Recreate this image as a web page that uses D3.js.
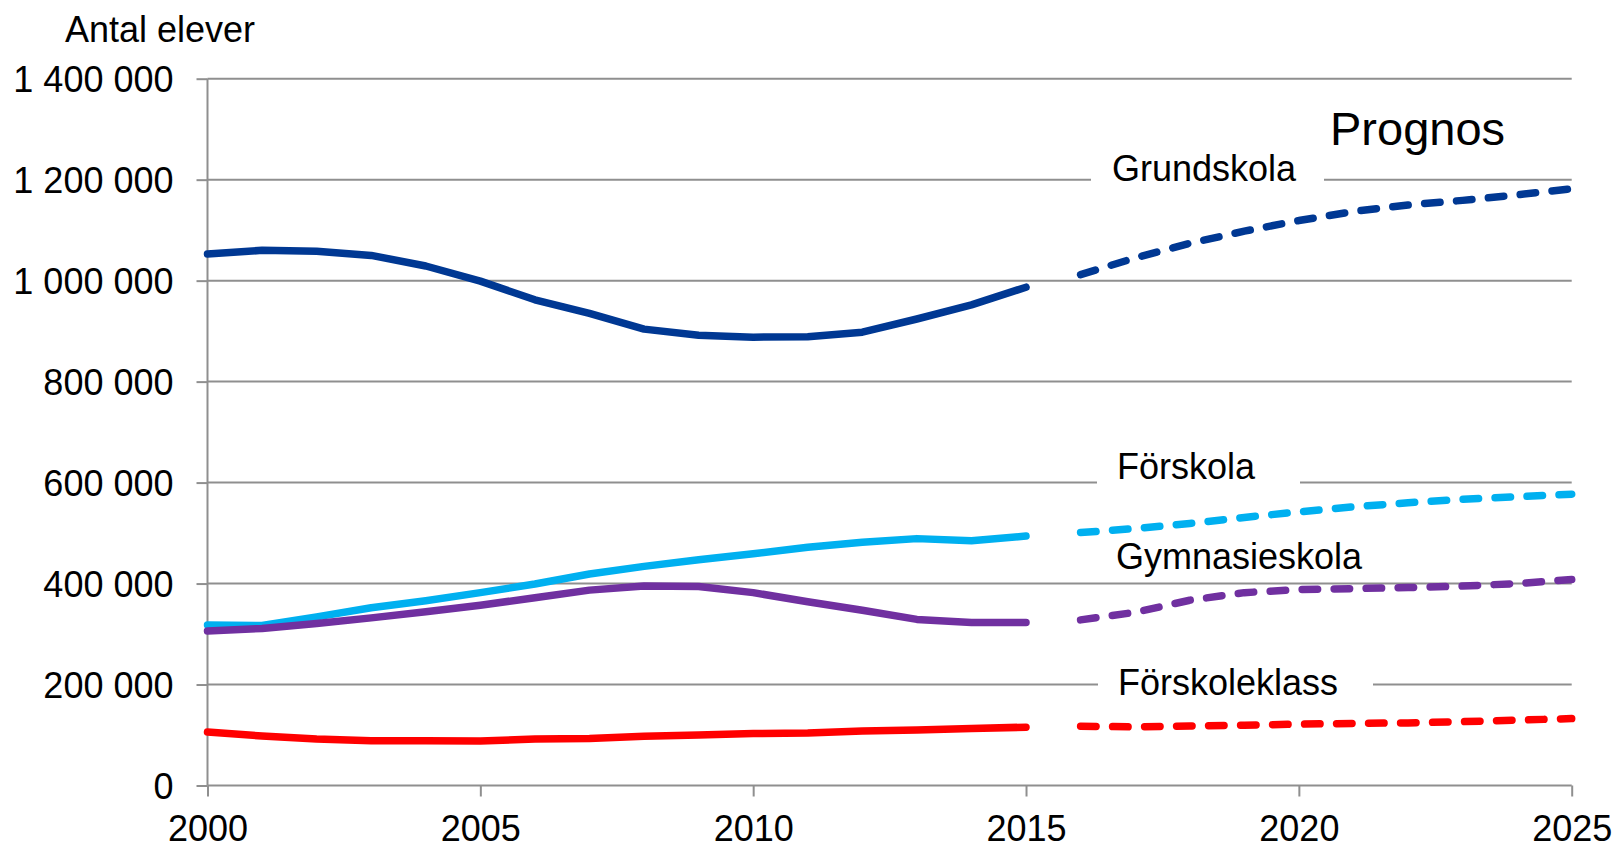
<!DOCTYPE html>
<html>
<head>
<meta charset="utf-8">
<script src="https://cdn.jsdelivr.net/npm/d3@7"></script>
<style>
  html, body { margin: 0; padding: 0; background: #fff; }
  svg { display: block; font-family: "Liberation Sans", Arial, sans-serif; }
</style>
</head>
<body>
<svg id="chart" width="1616" height="846"></svg>
<script>
// ---- data ----
const yearsHist = [2000,2001,2002,2003,2004,2005,2006,2007,2008,2009,2010,2011,2012,2013,2014,2015];
const yearsProg = [2016,2017,2018,2019,2020,2021,2022,2023,2024,2025];

const grundskolaHist = [1053000,1060000,1058000,1050000,1029000,999000,962000,935000,904000,892000,888000,889000,898000,924000,952000,987000];
const grundskolaProg = [1012000,1045000,1074000,1098000,1119000,1137000,1150000,1159000,1170000,1182000];

const forskolaHist = [318000,317000,334000,352000,366000,382000,399000,419000,434000,447000,459000,472000,482000,489000,485000,494000];
const forskolaProg = [501000,509000,519000,531000,542000,552000,560000,567000,572000,577000];

const gymnasieHist = [306000,311000,321000,332000,344000,357000,372000,387000,395000,394000,382000,364000,347000,329000,323000,323000];
const gymnasieProg = [328000,343000,367000,382000,388000,390000,392000,395000,400000,408000];

const forskoleklassHist = [106000,98000,92000,88500,88500,88000,92000,93000,97500,100000,103000,104000,108000,110000,113000,115500];
const forskoleklassProg = [117500,116000,118000,119500,121500,123000,124000,126500,129500,132500];

const yTicks = [0,200000,400000,600000,800000,1000000,1200000,1400000];
const xTicks = [2000,2005,2010,2015,2020,2025];

const seriesNames = ["Grundskola","Förskola","Gymnasieskola","Förskoleklass"];
const seriesColors = ["#003893","#00B0F0","#7030A0","#FF0000"];
const histValues = [grundskolaHist, forskolaHist, gymnasieHist, forskoleklassHist];
const progValues = [grundskolaProg, forskolaProg, gymnasieProg, forskoleklassProg];

const yTitle = "Antal elever";
const prognosText = "Prognos";

// ---- layout ----
const svg = d3.select("#chart");
const x = d3.scaleLinear().domain([2000, 2025]).range([207.5, 1571.7]);
const y = d3.scaleLinear().domain([0, 1400000]).range([785.5, 78.7]);

const loc = d3.formatLocale({decimal: ",", thousands: " ", grouping: [3], currency: ["", ""]});
const fmt = loc.format(",d");

const gridColor = "#8f8f8f";

// gridlines
svg.append("g").selectAll("line").data(yTicks.filter(d => d > 0)).join("line")
  .attr("x1", x(2000)).attr("x2", x(2025))
  .attr("y1", d => y(d)).attr("y2", d => y(d))
  .attr("stroke", gridColor).attr("stroke-width", 2);

// label boxes (white) that break the gridlines
const labelLayout = [
  {name: "Grundskola", x: 1112, yb: 181, boxL: 1091, boxR: 1324},
  {name: "Förskola", x: 1117, yb: 479, boxL: 1097, boxR: 1300},
  {name: "Gymnasieskola", x: 1116, yb: 569, boxL: 1100, boxR: 1380},
  {name: "Förskoleklass", x: 1118, yb: 695, boxL: 1098, boxR: 1373}
];
const lblG = svg.append("g");
labelLayout.forEach(l => {
  lblG.append("rect")
    .attr("x", l.boxL).attr("width", l.boxR - l.boxL)
    .attr("y", l.yb - 33).attr("height", l.name === "Gymnasieskola" ? 40 : 42)
    .attr("fill", "#fff");
});

// y axis
const yAxis = d3.axisLeft(y).tickValues(yTicks).tickFormat(fmt).tickSize(11).tickPadding(23);
const gy = svg.append("g").attr("transform", `translate(${x(2000)},0)`).call(yAxis);
gy.select(".domain").attr("stroke", gridColor).attr("stroke-width", 2)
  .attr("d", `M0,${y(0)}V${y(1400000)}`);
gy.selectAll(".tick line").attr("stroke", gridColor).attr("stroke-width", 2);
gy.selectAll(".tick text").attr("font-size", 36).attr("fill", "#000")
  .attr("font-family", "'Liberation Sans', Arial, sans-serif").attr("dy", "0.36em");

// x axis
const xAxis = d3.axisBottom(x).tickValues(xTicks).tickFormat(d3.format("d")).tickSize(11).tickPadding(19);
const gx = svg.append("g").attr("transform", `translate(0,${y(0)})`).call(xAxis);
gx.select(".domain").attr("stroke", gridColor).attr("stroke-width", 2)
  .attr("d", `M${x(2000)},0H${x(2025)}`);
gx.selectAll(".tick line").attr("stroke", gridColor).attr("stroke-width", 2);
gx.selectAll(".tick text").attr("font-size", 36).attr("fill", "#000")
  .attr("font-family", "'Liberation Sans', Arial, sans-serif").attr("dy", "0.71em");

// lines
const line = d3.line().x(d => x(d[0])).y(d => y(d[1]));
const linesG = svg.append("g");
seriesNames.forEach((name, i) => {
  const h = yearsHist.map((yr, j) => [yr, histValues[i][j]]);
  const p = yearsProg.map((yr, j) => [yr, progValues[i][j]]);
  linesG.append("path").datum(h).attr("d", line)
    .attr("fill", "none").attr("stroke", seriesColors[i]).attr("stroke-width", 7.5)
    .attr("stroke-linejoin", "round").attr("stroke-linecap", "round");
  linesG.append("path").datum(p).attr("d", line)
    .attr("fill", "none").attr("stroke", seriesColors[i]).attr("stroke-width", 7.5)
    .attr("stroke-linejoin", "round").attr("stroke-linecap", "round")
    .attr("stroke-dasharray", "15.5 16.5");
});

// series labels
labelLayout.forEach(l => {
  svg.append("text").attr("x", l.x).attr("y", l.yb)
    .attr("font-size", 36).attr("fill", "#000").text(l.name);
});

// titles
svg.append("text").attr("x", 65).attr("y", 42).attr("font-size", 36).attr("fill", "#000").text(yTitle);
svg.append("text").attr("x", 1330).attr("y", 145).attr("font-size", 47).attr("fill", "#000").text(prognosText);
</script>
</body>
</html>
